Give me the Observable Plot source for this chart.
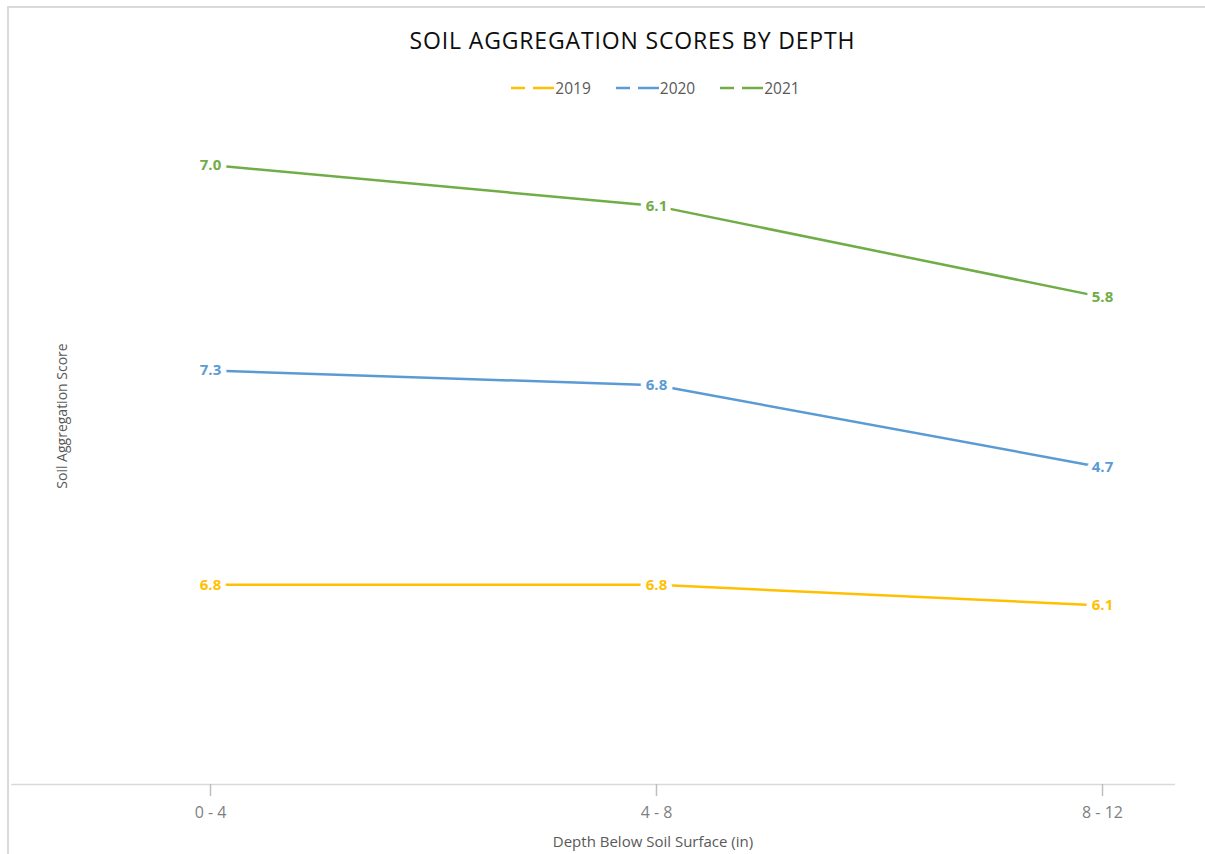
<!DOCTYPE html>
<html>
<head>
<meta charset="utf-8">
<script src="https://cdn.jsdelivr.net/npm/d3@7"></script>
<script src="https://cdn.jsdelivr.net/npm/@observablehq/plot@0.6"></script>
<style>
  html, body { margin: 0; padding: 0; background: #fff; }
  #chart { position: relative; width: 1205px; height: 854px; overflow: hidden; font-family: "Open Sans", sans-serif; }
  #frame { position: absolute; left: 7px; top: 6px; right: -10px; bottom: -10px; border-left: 2px solid #d9d9d9; border-top: 2px solid #d9d9d9; }
  #chart svg.plot { position: absolute; left: 0; top: 0; }
  #title { position: absolute; top: 24px; left: 0; width: 1265px; text-align: center; font-size: 23px; letter-spacing: 0.85px; color: #0d0d0d; }
  #legend { position: absolute; top: 77px; left: 0; width: 1310px; display: flex; justify-content: center; gap: 24px; font-size: 15.5px; color: #595959; }
  #legend .item { display: flex; align-items: center; gap: 1px; }
  #ytitle { position: absolute; left: 61px; top: 416px; transform: translate(-50%, -50%) rotate(-90deg); font-size: 14px; color: #595959; white-space: nowrap; }
  #xtitle { position: absolute; left: 653px; top: 831px; transform: translateX(-50%); font-size: 15px; color: #595959; white-space: nowrap; }
</style>
</head>
<body>
<div id="chart">
  <div id="frame"></div>
  <div id="title">SOIL AGGREGATION SCORES BY DEPTH</div>
  <div id="legend"></div>
  <div id="ytitle">Soil Aggregation Score</div>
  <div id="xtitle">Depth Below Soil Surface (in)</div>
</div>
<script>
// Depth bands (inches below the surface) and the yearly aggregation scores
const depths = ["0 - 4", "4 - 8", "8 - 12"];
const years = ["2019", "2020", "2021"];
const colors = ["#FFC000", "#5B9BD5", "#70AD47"];
const scores2019 = [6.8, 6.8, 6.1];
const scores2020 = [7.3, 6.8, 4.7];
const scores2021 = [7.0, 6.1, 5.8];

const seriesScores = [scores2019, scores2020, scores2021];
const rows = years.flatMap((year, i) =>
  depths.map((depth, j) => ({year, depth, score: seriesScores[i][j]}))
);

// Legend: a broken line swatch followed by the year
const legend = document.getElementById("legend");
years.forEach((year, i) => {
  const item = document.createElement("div");
  item.className = "item";
  item.innerHTML =
    `<svg width="44" height="6"><line x1="1" x2="15" y1="3" y2="3" stroke="${colors[i]}" stroke-width="2.5"/>` +
    `<line x1="23" x2="44" y1="3" y2="3" stroke="${colors[i]}" stroke-width="2.5"/></svg><span>${year}</span>`;
  legend.appendChild(item);
});

// Stacked lines: each year sits on top of the previous ones, labelled with its own score
const chart = Plot.plot({
  width: 1205,
  height: 854,
  marginLeft: 11,
  marginRight: 30,
  marginTop: 50,
  marginBottom: 70,
  style: {fontFamily: "Open Sans, sans-serif", background: "transparent", overflow: "visible"},
  x: {type: "point", domain: depths, range: [210, 1102], padding: 0, label: null},
  y: {domain: [0, 25], axis: null},
  color: {domain: years, range: colors},
  marks: [
    Plot.ruleY([0], {stroke: "#d9d9d9", strokeWidth: 1.5}),
    Plot.axisX({tickSize: 12, tickPadding: 10, stroke: "#bfbfbf", strokeWidth: 1.5, fill: "#7f7f7f", fontSize: 16, label: null}),
    Plot.lineY(rows, Plot.stackY2({x: "depth", y: "score", z: "year", stroke: "year", strokeWidth: 2.5})),
    Plot.text(rows, Plot.stackY2({
      x: "depth", y: "score", z: "year",
      text: d => d.score.toFixed(1),
      fill: "year", stroke: "white", strokeWidth: 11,
      fontWeight: "bold", fontSize: 15
    }))
  ]
});
chart.classList.add("plot");
document.getElementById("chart").appendChild(chart);
</script>
</body>
</html>
